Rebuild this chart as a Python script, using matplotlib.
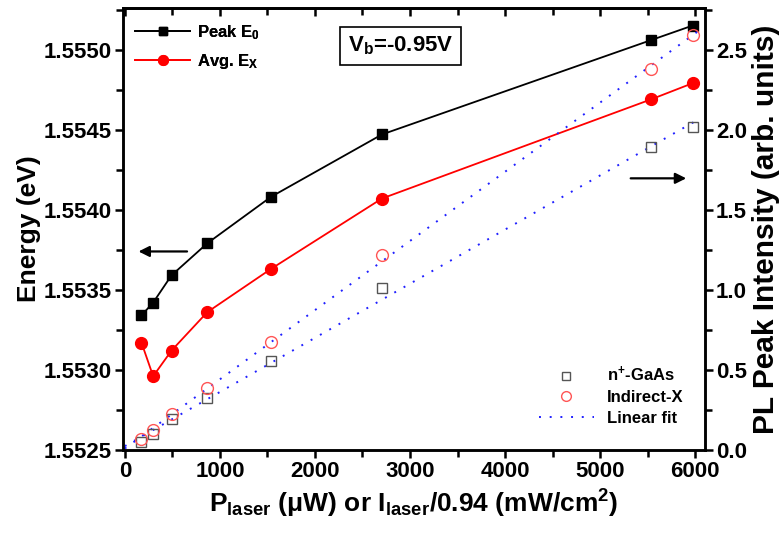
import matplotlib
matplotlib.use('Agg')
import matplotlib.pyplot as plt
from matplotlib.lines import Line2D
from matplotlib.ticker import MultipleLocator, FormatStrFormatter
import numpy as np

plt.rcParams['font.family'] = 'Liberation Sans'
plt.rcParams['font.weight'] = 'bold'
plt.rcParams['mathtext.fontset'] = 'custom'
plt.rcParams['mathtext.rm'] = 'Liberation Sans:bold'
plt.rcParams['mathtext.it'] = 'Liberation Sans:bold'
plt.rcParams['mathtext.bf'] = 'Liberation Sans:bold'

# laser power (uW)
P_laser = [175, 298, 491, 867, 1537, 2705, 5539, 5972]

# peak energies (eV), left axis
Peak_E0 = [1.55334, 1.55342, 1.55359, 1.55379, 1.55408, 1.55447, 1.55506, 1.55515]
Avg_EX = [1.55317, 1.55296, 1.55312, 1.55336, 1.55363, 1.55407, 1.55469, 1.55479]

# PL peak intensity (arb. units), right axis
I_GaAs = [0.046, 0.098, 0.192, 0.327, 0.558, 1.010, 1.891, 2.017]
I_IndX = [0.067, 0.125, 0.225, 0.385, 0.677, 1.219, 2.381, 2.596]

fig = plt.figure(figsize=(7.83, 5.33), dpi=100)
ax = fig.add_axes([0.157, 0.156, 0.743, 0.829])
ax2 = ax.twinx()

ax.plot(P_laser, Peak_E0, color='black', lw=1.3, marker='s', ms=7, zorder=5)
ax.plot(P_laser, Avg_EX, color='red', lw=1.3, marker='o', ms=8.5, zorder=5)

# linear fits of the intensities
xfit = np.array([0, 6050])
for I in (I_GaAs, I_IndX):
    k, b = np.polyfit(P_laser, I, 1)
    ax2.plot(xfit, k*xfit + b, color='#2020ff', lw=1.4, linestyle=(0, (1, 4.5)))
ax2.plot(P_laser, I_GaAs, ls='none', marker='s', ms=7.5, mfc='none', mec='#555555', mew=1.0)
ax2.plot(P_laser, I_IndX, ls='none', marker='o', ms=8.5, mfc='none', mec='#ff5555', mew=1.0)

ax.set_xlim(-20, 6100)
ax.set_ylim(1.5525, 1.55526)
ax2.set_ylim(0, 2.763)

ax.xaxis.set_major_locator(MultipleLocator(1000))
ax.xaxis.set_minor_locator(MultipleLocator(500))
ax.yaxis.set_major_locator(MultipleLocator(0.0005))
ax.yaxis.set_minor_locator(MultipleLocator(0.00025))
ax.yaxis.set_major_formatter(FormatStrFormatter('%.4f'))
ax2.yaxis.set_major_locator(MultipleLocator(0.5))
ax2.yaxis.set_minor_locator(MultipleLocator(0.25))
ax2.yaxis.set_major_formatter(FormatStrFormatter('%.1f'))

for a in (ax, ax2):
    for s in a.spines.values():
        s.set_linewidth(1.8)
ax.tick_params(axis='both', which='both', direction='out', width=1.8, labelsize=16, pad=2)
ax.tick_params(axis='both', which='major', length=6)
ax.tick_params(axis='both', which='minor', length=5)
ax2.tick_params(axis='y', which='both', direction='out', width=1.8, labelsize=16, pad=2)
ax2.tick_params(axis='y', which='major', length=6)
ax2.tick_params(axis='y', which='minor', length=5)

# top axis ticks point inward
secx = ax.secondary_xaxis('top')
secx.xaxis.set_major_locator(MultipleLocator(1000))
secx.xaxis.set_minor_locator(MultipleLocator(500))
secx.tick_params(axis='x', which='both', direction='in', width=1.8, labeltop=False)
secx.tick_params(which='major', length=6)
secx.tick_params(which='minor', length=5)
secx.spines['top'].set_linewidth(1.8)

ax.set_ylabel('Energy (eV)', fontsize=19, fontweight='bold', labelpad=2)
ax2.set_ylabel('PL Peak Intensity (arb. units)', fontsize=21.5, fontweight='bold', labelpad=4)
ax.set_xlabel(r'P$_{laser}$ ($\mu$W) or I$_{laser}$/0.94 (mW/cm$^{2}$)', fontsize=19,
              fontweight='bold', labelpad=4)

h1 = [Line2D([], [], color='black', lw=1.3, marker='s', ms=6),
      Line2D([], [], color='red', lw=1.3, marker='o', ms=7)]
leg1 = ax.legend(h1, [r'Peak E$_0$', r'Avg. E$_X$'], loc='upper left', frameon=False,
                 fontsize=12, handlelength=3.3, handletextpad=0.4, labelspacing=0.6,
                 bbox_to_anchor=(-0.005, 1.0))
ax.add_artist(leg1)

h2 = [Line2D([], [], ls='none', marker='s', ms=6, mfc='none', mec='#555555', mew=1.0),
      Line2D([], [], ls='none', marker='o', ms=7, mfc='none', mec='#ff5555', mew=1.0),
      Line2D([], [], color='#2020ff', lw=1.4, linestyle=(0, (1, 4.5)))]
ax2.legend(h2, [r'n$^{+}$-GaAs', 'Indirect-X', 'Linear fit'], loc='lower right',
           frameon=False, fontsize=12, handlelength=3.3, handletextpad=0.8,
           labelspacing=0.35, bbox_to_anchor=(0.99, 0.02))

ax.text(0.477, 0.914, r'V$_b$=-0.95V', transform=ax.transAxes, fontsize=16,
        fontweight='bold', ha='center', va='center',
        bbox=dict(boxstyle='square,pad=0.35', fc='white', ec='black', lw=1.2))

# arrows pointing at the matching axes
ax.annotate('', xy=(0.022, 0.449), xytext=(0.115, 0.449), xycoords='axes fraction',
            arrowprops=dict(arrowstyle='-|>', color='black', lw=1.6, mutation_scale=16))
ax.annotate('', xy=(0.973, 0.6145), xytext=(0.868, 0.6145), xycoords='axes fraction',
            arrowprops=dict(arrowstyle='-|>', color='black', lw=1.6, mutation_scale=16))

fig.savefig('out.png', dpi=100)
